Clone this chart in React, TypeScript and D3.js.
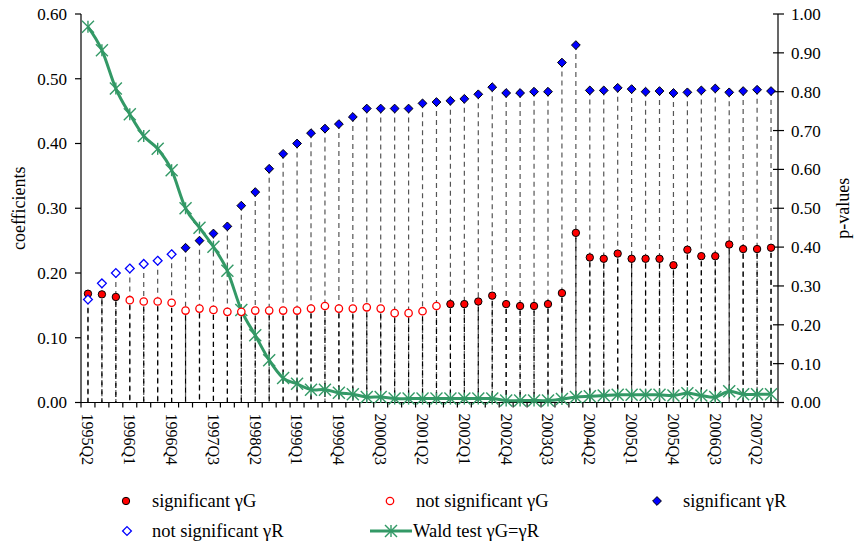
import React from "react";
import * as d3 from "d3";

const categories = [
  "1995Q2","1995Q3","1995Q4","1996Q1","1996Q2","1996Q3","1996Q4","1997Q1","1997Q2","1997Q3",
  "1997Q4","1998Q1","1998Q2","1998Q3","1998Q4","1999Q1","1999Q2","1999Q3","1999Q4","2000Q1",
  "2000Q2","2000Q3","2000Q4","2001Q1","2001Q2","2001Q3","2001Q4","2002Q1","2002Q2","2002Q3",
  "2002Q4","2003Q1","2003Q2","2003Q3","2003Q4","2004Q1","2004Q2","2004Q3","2004Q4","2005Q1",
  "2005Q2","2005Q3","2005Q4","2006Q1","2006Q2","2006Q3","2006Q4","2007Q1","2007Q2","2007Q3",
];

const gammaG = [
  0.168,0.167,0.163,0.158,0.156,0.156,0.154,0.142,0.145,0.143,
  0.140,0.140,0.142,0.142,0.142,0.142,0.145,0.149,0.145,0.145,
  0.147,0.145,0.138,0.138,0.141,0.149,0.152,0.152,0.156,0.165,
  0.152,0.149,0.149,0.152,0.169,0.262,0.224,0.222,0.230,0.222,
  0.222,0.222,0.212,0.236,0.226,0.226,0.244,0.237,0.237,0.239,
];
const gammaGSig = [
  true,true,true,false,false,false,false,false,false,false,
  false,false,false,false,false,false,false,false,false,false,
  false,false,false,false,false,false,true,true,true,true,
  true,true,true,true,true,true,true,true,true,true,
  true,true,true,true,true,true,true,true,true,true,
];

const gammaR = [
  0.159,0.184,0.200,0.207,0.214,0.219,0.229,0.239,0.250,0.261,
  0.272,0.304,0.325,0.361,0.384,0.400,0.416,0.423,0.430,0.441,
  0.454,0.454,0.454,0.454,0.462,0.464,0.466,0.469,0.476,0.487,
  0.478,0.478,0.480,0.480,0.525,0.552,0.482,0.482,0.486,0.484,
  0.480,0.481,0.478,0.479,0.482,0.485,0.479,0.481,0.483,0.481,
];
const gammaRSig = [
  false,false,false,false,false,false,false,true,true,true,
  true,true,true,true,true,true,true,true,true,true,
  true,true,true,true,true,true,true,true,true,true,
  true,true,true,true,true,true,true,true,true,true,
  true,true,true,true,true,true,true,true,true,true,
];

const wald = [
  0.967,0.907,0.808,0.742,0.686,0.653,0.598,0.500,0.450,0.401,
  0.339,0.238,0.173,0.109,0.063,0.048,0.033,0.033,0.025,0.021,
  0.014,0.014,0.010,0.010,0.010,0.010,0.010,0.010,0.010,0.010,
  0.005,0.005,0.005,0.005,0.009,0.014,0.016,0.018,0.020,0.020,
  0.020,0.020,0.018,0.024,0.018,0.014,0.029,0.021,0.021,0.021,
];

const leftTicks = [0, 0.1, 0.2, 0.3, 0.4, 0.5, 0.6];
const rightTicks = [0, 0.1, 0.2, 0.3, 0.4, 0.5, 0.6, 0.7, 0.8, 0.9, 1.0];

const W = 854, H = 543;
const X0 = 81, X1 = 778, Y0 = 402.5, Y1 = 14;
const FONT = '"Liberation Serif", "Times New Roman", "DejaVu Serif", serif';
const GREEN = "#339966";

function Star({ x, y, s = 6, w = 1.4 }: { x: number; y: number; s?: number; w?: number }) {
  return (
    <g stroke={GREEN} strokeWidth={w} fill="none">
      <line x1={x - s} y1={y - s} x2={x + s} y2={y + s} />
      <line x1={x - s} y1={y + s} x2={x + s} y2={y - s} />
      <line x1={x} y1={y - s} x2={x} y2={y + s} />
    </g>
  );
}

function Diamond({ x, y, filled, r = 4.4 }: { x: number; y: number; filled: boolean; r?: number }) {
  const d = `M${x},${y - r}L${x + r},${y}L${x},${y + r}L${x - r},${y}Z`;
  return filled ? (
    <path d={d} fill="#0000FF" stroke="#000" strokeWidth={1} />
  ) : (
    <path d={d} fill="#fff" stroke="#0000FF" strokeWidth={1.3} />
  );
}

function Dot({ x, y, filled, r = 3.7 }: { x: number; y: number; filled: boolean; r?: number }) {
  return filled ? (
    <circle cx={x} cy={y} r={r} fill="#FF0000" stroke="#000" strokeWidth={1} />
  ) : (
    <circle cx={x} cy={y} r={r} fill="#fff" stroke="#FF0000" strokeWidth={1.3} />
  );
}

export default function App() {
  const x = d3.scaleBand<string>().domain(categories).range([X0, X1]).padding(0);
  const bw = x.bandwidth();
  const cx = (c: string) => (x(c) as number) + bw / 2;
  const yL = d3.scaleLinear().domain([0, 0.6]).range([Y0, Y1]);
  const yR = d3.scaleLinear().domain([0, 1]).range([Y0, Y1]);

  const waldLine = d3
    .line<number>()
    .x((_, i) => cx(categories[i]))
    .y((d) => yR(d))
    .curve(d3.curveCatmullRom.alpha(0));

  const boundaries = categories.map((c) => x(c) as number).concat([X1]);
  const tf: React.CSSProperties = { fontFamily: FONT };

  return (
    <svg
      width={W}
      height={H}
      style={{ position: "absolute", left: 0, top: 0, background: "#fff", fontFamily: FONT }}
    >
      <style>{`text { font-family: ${FONT}; }`}</style>
      <rect x={0} y={0} width={W} height={H} fill="#fff" />
      {/* drop lines */}
      <g>
        {categories.map((c, i) => (
          <line
            key={"r" + c}
            x1={cx(c)}
            x2={cx(c)}
            y1={yL(gammaR[i])}
            y2={Y0}
            stroke="#555"
            strokeWidth={1.2}
            strokeDasharray="5,4"
          />
        ))}
        {categories.map((c, i) => (
          <line
            key={"g" + c}
            x1={cx(c)}
            x2={cx(c)}
            y1={yL(gammaG[i])}
            y2={Y0}
            stroke="#000"
            strokeWidth={1.2}
            strokeDasharray="5,4"
            strokeDashoffset={4}
          />
        ))}
      </g>
      {/* axes */}
      <g stroke="#000" strokeWidth={1.2}>
        <line x1={X0} y1={Y1} x2={X0} y2={Y0} />
        <line x1={X1} y1={Y1} x2={X1} y2={Y0} />
        <line x1={X0} y1={Y0} x2={X1} y2={Y0} />
        {leftTicks.map((t) => (
          <line key={"lt" + t} x1={X0 - 6} x2={X0} y1={yL(t)} y2={yL(t)} />
        ))}
        {rightTicks.map((t) => (
          <line key={"rt" + t} x1={X1 - 5} x2={X1 + 6} y1={yR(t)} y2={yR(t)} />
        ))}
        {boundaries.map((b, i) => (
          <line key={"xt" + i} x1={b} x2={b} y1={Y0} y2={Y0 + 5} />
        ))}
      </g>
      <g fontSize={17} fill="#000" style={tf}>
        {leftTicks.map((t) => (
          <text key={"ll" + t} x={X0 - 14} y={yL(t)} dy="0.35em" textAnchor="end" style={tf}>
            {t.toFixed(2)}
          </text>
        ))}
        {rightTicks.map((t) => (
          <text key={"rl" + t} x={X1 + 13} y={yR(t)} dy="0.35em" textAnchor="start" style={tf}>
            {t.toFixed(2)}
          </text>
        ))}
        {categories.map((c, i) =>
          i % 3 === 0 ? (
            <text
              key={"xl" + c}
              transform={`translate(${cx(c)},${Y0 + 11}) rotate(90)`}
              dy="0.35em"
              textAnchor="start"
              fontSize={16}
              style={tf}
            >
              {c}
            </text>
          ) : null
        )}
        <text transform={`translate(19,${(Y0 + Y1) / 2}) rotate(-90)`} textAnchor="middle" dy="0.35em" fontSize={18} style={tf}>
          coefficients
        </text>
        <text transform={`translate(843,${(Y0 + Y1) / 2}) rotate(-90)`} textAnchor="middle" dy="0.35em" fontSize={18} style={tf}>
          p-values
        </text>
      </g>
      {/* series */}
      <path d={waldLine(wald) || ""} fill="none" stroke={GREEN} strokeWidth={3} />
      {categories.map((c, i) => (
        <Star key={"w" + c} x={cx(c)} y={yR(wald[i])} />
      ))}
      {categories.map((c, i) => (
        <Dot key={"d" + c} x={cx(c)} y={yL(gammaG[i])} filled={gammaGSig[i]} />
      ))}
      {categories.map((c, i) => (
        <Diamond key={"m" + c} x={cx(c)} y={yL(gammaR[i])} filled={gammaRSig[i]} />
      ))}
      {/* legend */}
      <g fontSize={18.5} fill="#000" style={tf}>
        <Dot x={126} y={501} filled={true} />
        <text x={152} y={501} dy="0.35em" style={tf}>significant γG</text>
        <Dot x={390} y={501} filled={false} />
        <text x={416} y={501} dy="0.35em" style={tf}>not significant γG</text>
        <Diamond x={657} y={501} filled={true} />
        <text x={683} y={501} dy="0.35em" style={tf}>significant γR</text>
        <Diamond x={127} y={531} filled={false} />
        <text x={152} y={531} dy="0.35em" style={tf}>not significant γR</text>
        <line x1={370} x2={412} y1={531} y2={531} stroke={GREEN} strokeWidth={3} />
        <Star x={391} y={531} />
        <text x={413} y={531} dy="0.35em" style={tf}>Wald test γG=γR</text>
      </g>
    </svg>
  );
}
